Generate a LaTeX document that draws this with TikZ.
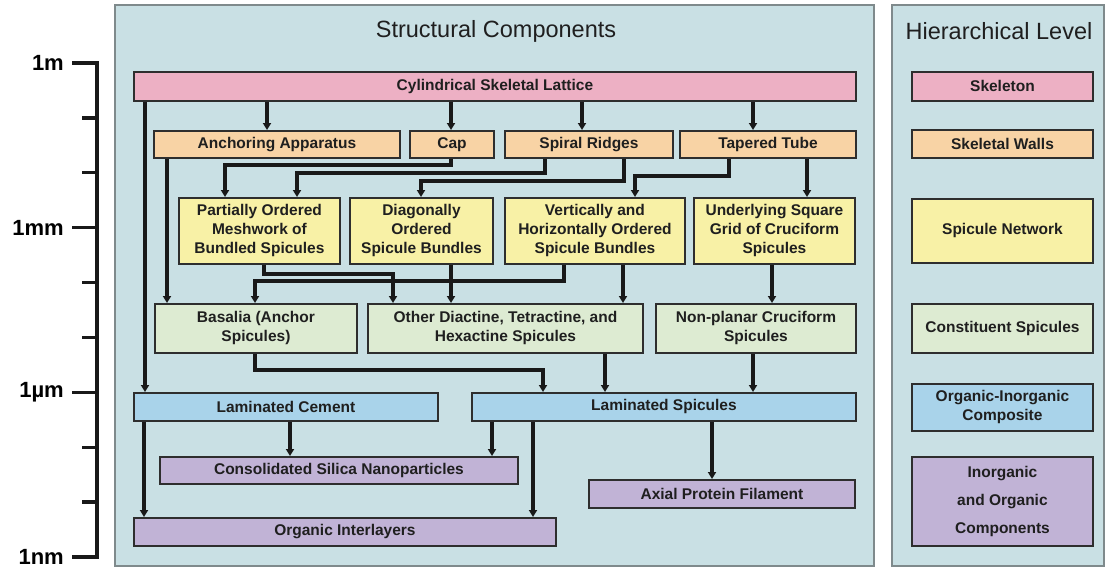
\documentclass[tikz,border=0pt]{standalone}
\usepackage{fontspec}
\setmainfont{Liberation Sans}
\usetikzlibrary{arrows.meta,calc}
\definecolor{panelbg}{HTML}{C9E0E4}
\definecolor{panelline}{HTML}{7F8A8C}
\definecolor{boxline}{HTML}{2E2E2E}
\definecolor{cpink}{HTML}{EDB0C4}
\definecolor{corange}{HTML}{F8D3A5}
\definecolor{cyellow}{HTML}{F8F1A6}
\definecolor{cgreen}{HTML}{DDEBD2}
\definecolor{cblue}{HTML}{A9D3EA}
\definecolor{cpurple}{HTML}{C1B3D6}
\newcommand\sdown[3]{%
  \draw[link] (#1.south -| #3,0) -- (#2.north -| #3,0);
}
\newcommand\selbow[5]{%
  \draw[link] (#1.south -| #3,0) |- (#4,#5) -- (#2.north -| #4,0);
}

\begin{document}
\begin{tikzpicture}
[x=1pt, y=-1pt,
 lvl/.style={draw=boxline, line width=1.9pt, anchor=north west, inner sep=0pt, align=center,
             text=black!88, font=\fontsize{15.5}{19}\selectfont\bfseries},
 skel/.style={lvl, fill=cpink},
 wall/.style={lvl, fill=corange},
 net/.style={lvl, fill=cyellow},
 spic/.style={lvl, fill=cgreen},
 comp/.style={lvl, fill=cblue},
 part/.style={lvl, fill=cpurple},
 panel/.style={fill=panelbg, draw=panelline, line width=1.4pt},
 title/.style={font=\fontsize{23.5}{28}\selectfont, inner sep=0pt, text=black!88},
 bar/.style={line width=3.4pt, black!90},
 scalelab/.style={font=\fontsize{22}{26}\selectfont\bfseries, inner sep=0pt, anchor=east},
 link/.style={line width=3.3pt, draw=black!90, -{Triangle[length=7pt,width=8pt]}}]
\useasboundingbox (0,0) rectangle (1107,571);
% panels
\draw[panel] (115,5) rectangle (874,566);
\draw[panel] (892,5) rectangle (1104,566);
\node[title] (sctitle) at (496,31) {Structural Components};
\node[title] (hltitle) at (999,31) {Hierarchical Level};
% scale
\draw[bar] (72,63) -- (97,63) -- (97,557) -- (72,557);
\foreach \i in {1,2,4,5,7,8}
  \draw[bar] (82,{63+\i*54.889}) -- (97,{63+\i*54.889});
\foreach \i/\lab/\nam in {0/1m/sm, 3/1mm/smm, 6/1µm/sum, 9/1nm/snm}
  { \draw[bar] (72,{63+\i*54.889}) -- (97,{63+\i*54.889});
    \node[scalelab] (\nam) at (64,{63+\i*54.889}) {\lab};
  }
% structural components
\node[skel, minimum width=722pt, minimum height=29pt] (lattice) at (133,71) {Cylindrical Skeletal Lattice};
\node[wall, minimum width=246pt, minimum height=27pt] (anchor) at (153,130) {Anchoring Apparatus};
\node[wall, minimum width=84pt,  minimum height=27pt] (cap)    at (409,130) {Cap};
\node[wall, minimum width=168pt, minimum height=27pt] (ridges) at (504,130) {Spiral Ridges};
\node[wall, minimum width=176pt, minimum height=27pt] (tube)   at (679,130) {Tapered Tube};
\node[net, minimum width=161pt, minimum height=66pt] (mesh) at (178,197) {Partially Ordered\\Meshwork of\\Bundled Spicules};
\node[net, minimum width=143pt, minimum height=66pt] (diag) at (349,197) {Diagonally\\Ordered\\Spicule Bundles};
\node[net, minimum width=180pt, minimum height=66pt] (vert) at (504,197) {Vertically and\\Horizontally Ordered\\Spicule Bundles};
\node[net, minimum width=161pt, minimum height=66pt] (grid) at (693,197) {Underlying Square\\Grid of Cruciform\\Spicules};
\node[spic, minimum width=202pt, minimum height=49pt] (basalia)   at (154,303) {Basalia (Anchor\\Spicules)};
\node[spic, minimum width=275pt, minimum height=49pt] (other)     at (367,303) {Other Diactine, Tetractine, and\\Hexactine Spicules};
\node[spic, minimum width=200pt, minimum height=49pt] (nonplanar) at (655,303) {Non-planar Cruciform\\Spicules};
\node[comp, minimum width=304pt, minimum height=28pt] (cement)  at (133,392) {Laminated Cement};
\node[comp, minimum width=384pt, minimum height=28pt] (lamspic) at (471,392) {Laminated Spicules};
\node[part, minimum width=358pt, minimum height=27pt] (silica) at (159,456) {Consolidated Silica Nanoparticles};
\node[part, minimum width=266pt, minimum height=28pt] (axial)  at (588,479) {Axial Protein Filament};
\node[part, minimum width=422pt, minimum height=28pt] (inter)  at (133,517) {Organic Interlayers};
% hierarchical levels
\node[skel, minimum width=181pt, minimum height=29pt] (lskel)  at (911,71)  {Skeleton};
\node[wall, minimum width=181pt, minimum height=28pt] (lwall)  at (911,129) {Skeletal Walls};
\node[net,  minimum width=181pt, minimum height=64pt] (lnet)   at (911,198) {Spicule Network};
\node[spic, minimum width=181pt, minimum height=49pt] (lspic)  at (911,303) {Constituent Spicules};
\node[comp, minimum width=181pt, minimum height=47pt] (lcomp)  at (911,383) {Organic-Inorganic\\Composite};
\node[part, minimum width=181pt, minimum height=89pt, font=\fontsize{15.5}{28}\selectfont\bfseries] (lpart) at (911,456) {Inorganic\\and Organic\\Components};
% connectors
\sdown{lattice}{anchor}{267}
\sdown{lattice}{cap}{451}
\sdown{lattice}{ridges}{582}
\sdown{lattice}{tube}{753}
\sdown{lattice}{cement}{145}
\sdown{anchor}{basalia}{167}
\selbow{cap}{mesh}{451}{225}{165}
\selbow{ridges}{mesh}{545}{297}{173}
\selbow{ridges}{diag}{624}{421}{181}
\selbow{tube}{vert}{729}{635}{176}
\sdown{tube}{grid}{807}
\selbow{mesh}{other}{264}{393}{274}
\sdown{diag}{other}{451}
\selbow{vert}{basalia}{564}{255}{281}
\sdown{vert}{other}{623}
\sdown{grid}{nonplanar}{772}
\selbow{basalia}{lamspic}{255}{543}{370}
\sdown{other}{lamspic}{605}
\sdown{nonplanar}{lamspic}{753}
\sdown{cement}{inter}{144}
\sdown{cement}{silica}{290}
\sdown{lamspic}{silica}{492}
\sdown{lamspic}{inter}{533}
\sdown{lamspic}{axial}{712}
\end{tikzpicture}
\end{document}
